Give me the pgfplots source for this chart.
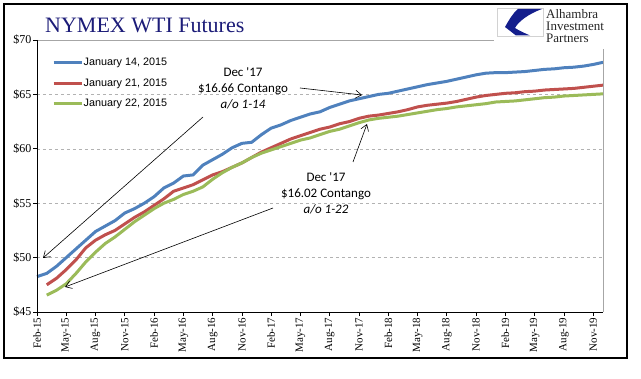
\documentclass[border=0pt]{standalone}
\usepackage{fontspec}
\setmainfont{Liberation Serif}
\newfontfamily\calibri{Carlito}
\newfontfamily\arialf{Liberation Sans}
\usepackage{pgfplots}
\usepackage{pgfplotstable}
\pgfplotsset{compat=1.18}
\usetikzlibrary{arrows.meta}
\definecolor{xblue}{HTML}{4F81BD}
\definecolor{xred}{HTML}{C0504D}
\definecolor{xgreen}{HTML}{9BBB59}
\definecolor{navy}{RGB}{28,28,120}
\definecolor{logoblue}{RGB}{20,30,140}

\pgfplotstableread{
i v
0 48.25
1 48.55
2 49.2
3 50.0
4 50.8
5 51.6
6 52.4
7 52.9
8 53.4
9 54.1
10 54.5
11 55.0
12 55.6
13 56.4
14 56.85
15 57.5
16 57.6
17 58.5
18 59.0
19 59.5
20 60.1
21 60.5
22 60.6
23 61.3
24 61.9
25 62.2
26 62.6
27 62.9
28 63.2
29 63.4
30 63.8
31 64.1
32 64.4
33 64.6
34 64.8
35 65.0
36 65.1
37 65.3
38 65.5
39 65.7
40 65.9
41 66.05
42 66.2
43 66.4
44 66.6
45 66.8
46 66.95
47 67.0
48 67.0
49 67.05
50 67.1
51 67.2
52 67.3
53 67.35
54 67.45
55 67.5
56 67.6
57 67.75
58 67.95
}\tblblue

\pgfplotstableread{
i v
1 47.5
2 48.1
3 48.9
4 49.8
5 50.9
6 51.6
7 52.1
8 52.5
9 53.1
10 53.7
11 54.2
12 54.8
13 55.4
14 56.1
15 56.4
16 56.7
17 57.15
18 57.6
19 57.9
20 58.3
21 58.7
22 59.2
23 59.7
24 60.1
25 60.5
26 60.9
27 61.2
28 61.5
29 61.8
30 62.0
31 62.3
32 62.5
33 62.8
34 63.0
35 63.1
36 63.25
37 63.4
38 63.6
39 63.85
40 64.0
41 64.1
42 64.2
43 64.35
44 64.55
45 64.75
46 64.9
47 65.0
48 65.1
49 65.15
50 65.25
51 65.3
52 65.4
53 65.45
54 65.5
55 65.55
56 65.65
57 65.75
58 65.85
}\tblred

\pgfplotstableread{
i v
1 46.55
2 47.0
3 47.6
4 48.55
5 49.6
6 50.5
7 51.3
8 51.9
9 52.6
10 53.3
11 53.9
12 54.5
13 55.0
14 55.35
15 55.8
16 56.1
17 56.5
18 57.2
19 57.8
20 58.3
21 58.7
22 59.2
23 59.6
24 59.9
25 60.2
26 60.5
27 60.8
28 61.0
29 61.3
30 61.6
31 61.8
32 62.1
33 62.4
34 62.65
35 62.8
36 62.9
37 63.0
38 63.15
39 63.3
40 63.45
41 63.6
42 63.7
43 63.85
44 63.95
45 64.05
46 64.15
47 64.3
48 64.35
49 64.4
50 64.5
51 64.6
52 64.7
53 64.75
54 64.85
55 64.9
56 64.95
57 65.0
58 65.05
}\tblgreen

\begin{document}
\begin{tikzpicture}
\useasboundingbox (0,0) rectangle (641bp,379bp);
\begin{axis}[
  at={(37bp,67bp)}, anchor=south west,
  scale only axis, width=566bp, height=272bp,
  xmin=0, xmax=58, ymin=45, ymax=70,
  clip=false,
  axis line style={draw=none},
  xtick={0,3,...,57},
  xticklabels={Feb-15,May-15,Aug-15,Nov-15,Feb-16,May-16,Aug-16,Nov-16,Feb-17,May-17,Aug-17,Nov-17,Feb-18,May-18,Aug-18,Nov-18,Feb-19,May-19,Aug-19,Nov-19},
  ytick={45,50,...,70},
  yticklabels={\$45,\$50,\$55,\$60,\$65,\$70},
  tick align=outside, major tick length=4bp,
  xtick pos=left, ytick pos=left,
  tick style={black, line width=0.8bp},
  ymajorgrids, grid style={dashed, gray!60, line width=0.4bp},
  xticklabel style={rotate=90, anchor=east, font=\fontsize{11bp}{13bp}\selectfont, inner sep=1.5bp},
  yticklabel style={font=\fontsize{12bp}{14bp}\selectfont, inner sep=1.5bp},
  legend style={at={(0.021,0.945)}, anchor=north west, draw=none, fill=none,
    font=\arialf\fontsize{10.8bp}{13bp}\selectfont, row sep=10.5bp,
    nodes={inner sep=0.6bp}},
  legend cell align=left,
  legend image code/.code={\draw[#1] (0bp,0bp) -- (28bp,0bp);},
]
\addplot[xblue, line width=3bp] table[x=i, y=v] {\tblblue};
\addlegendentry{January 14, 2015}
\addplot[xred, line width=3bp] table[x=i, y=v] {\tblred};
\addlegendentry{January 21, 2015}
\addplot[xgreen, line width=3bp] table[x=i, y=v] {\tblgreen};
\addlegendentry{January 22, 2015}
\draw[gray!70, line width=0.8bp] (rel axis cs:0,1) -- (rel axis cs:1,1) -- (rel axis cs:1,0);
\draw[black, line width=1bp] (rel axis cs:0,1) -- (rel axis cs:0,0) -- (rel axis cs:1,0);
\end{axis}
\begin{scope}[x=1bp, y=-1bp, shift={(0,379bp)}]
  % outer frame
  \draw[black, line width=1.2bp] (4,4) rectangle (627,358);
  % title
  \node[anchor=base west, inner sep=0, text=navy, font=\fontsize{22bp}{26bp}\selectfont] at (45,33) {NYMEX WTI Futures};
  % logo
  \fill[white] (494,5) rectangle (626,49);
  \draw[gray!35, fill=white, line width=0.6bp] (497,8) rectangle (543,36);
  \fill[logoblue] (518,9) -- (542,9) .. controls (528,14) and (518,22) .. (515,28)
     .. controls (520,31) .. (530,35.5) -- (516,35.5) .. controls (510,31) .. (505,27)
     .. controls (509,20) and (513,13) .. (518,9) -- cycle;
  \node[anchor=base west, inner sep=0, font=\fontsize{13bp}{12bp}\selectfont, text=black!85] at (546,19) {Alhambra};
  \node[anchor=base west, inner sep=0, font=\fontsize{13bp}{12bp}\selectfont, text=black!85] at (546,31) {Investment};
  \node[anchor=base west, inner sep=0, font=\fontsize{13bp}{12bp}\selectfont, text=black!85] at (546,43) {Partners};
  % annotations
  \node[align=center, inner sep=0, font=\calibri\fontsize{13bp}{16bp}\selectfont] at (243,88) {Dec '17\\\$16.66 Contango\\\textit{a/o 1-14}};
  \node[align=center, inner sep=0, font=\calibri\fontsize{13bp}{16bp}\selectfont] at (326,193) {Dec '17\\\$16.02 Contango\\\textit{a/o 1-22}};
  \draw[-{Straight Barb[length=6bp,width=8bp]}, line width=0.6bp] (300,88) -- (362,95);
  \draw[-{Straight Barb[length=6bp,width=8bp]}, line width=0.6bp] (203,117) -- (43,258);
  \draw[-{Straight Barb[length=6bp,width=8bp]}, line width=0.6bp] (353,162) -- (367,124);
  \draw[-{Straight Barb[length=6bp,width=8bp]}, line width=0.6bp] (273,208) -- (65,287);
\end{scope}
\end{tikzpicture}
\end{document}
